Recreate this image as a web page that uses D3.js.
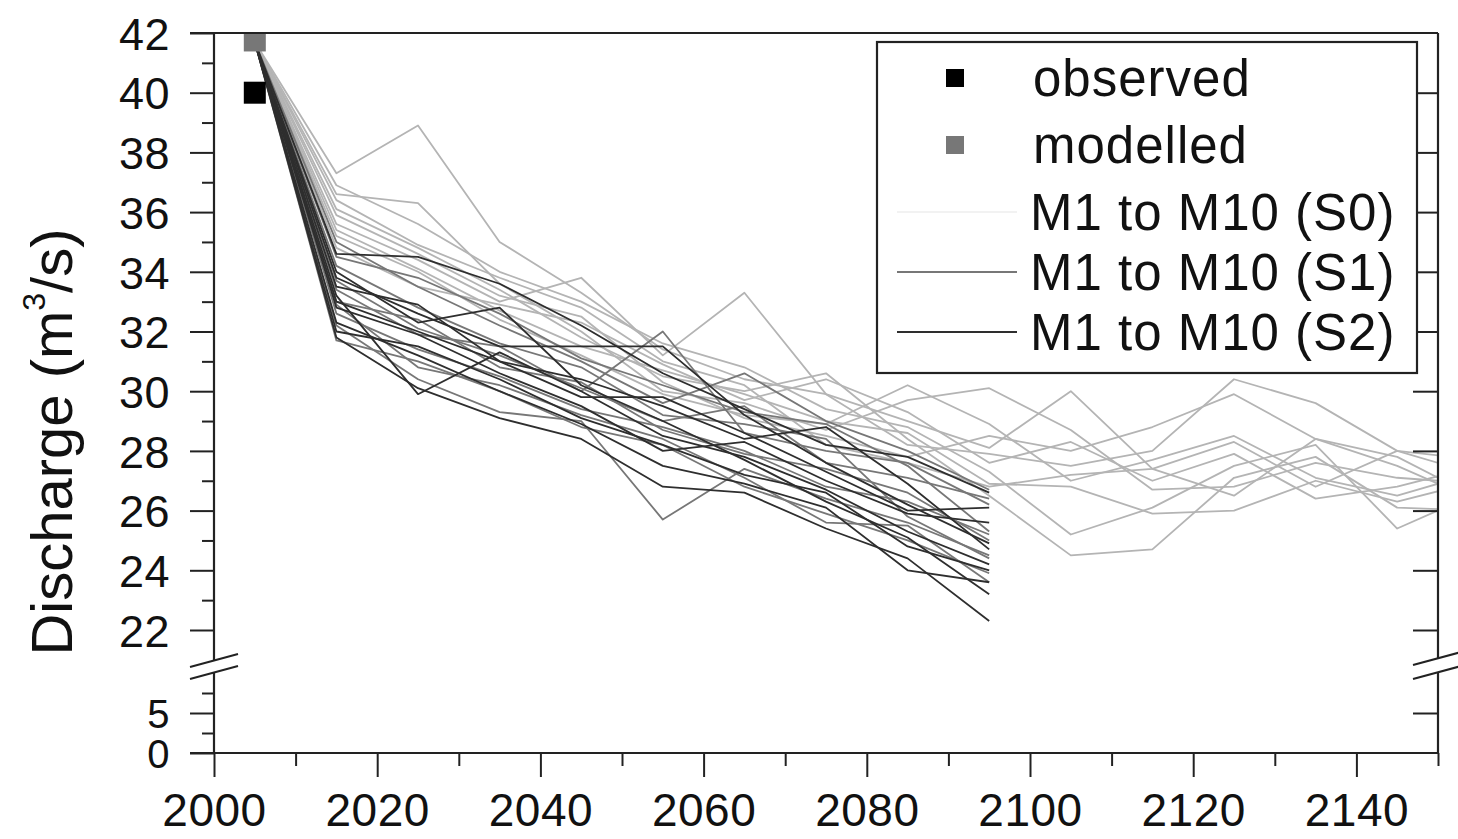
<!DOCTYPE html>
<html>
<head>
<meta charset="UTF-8">
<style>
  body { margin: 0; background: #fff; }
  svg { display: block; }
  .tick text { font-family: "Liberation Sans", Arial, sans-serif; fill: #111; letter-spacing: 0.5px; }
  .legend text { font-family: "Liberation Sans", Arial, sans-serif; fill: #111; letter-spacing: 1px; }
</style>
</head>
<body>
<svg width="1458" height="839"></svg>
<script src="https://d3js.org/d3.v7.min.js"></script>
<script>
// decades sampled by the model runs
const yearsLong = [2005, 2015, 2025, 2035, 2045, 2055, 2065, 2075, 2085, 2095, 2105, 2115, 2125, 2135, 2145, 2155];
const yearsShort = [2005, 2015, 2025, 2035, 2045, 2055, 2065, 2075, 2085, 2095];

// S0 : M1..M10, run to 2155
const s0 = [
  [41.7, 37.3, 38.9, 35.0, 33.3, 31.4, 30.4, 29.9, 28.2, 27.9, 27.5, 28.0, 30.4, 29.6, 28.0, 27.7],
  [41.7, 36.6, 36.3, 33.6, 32.0, 30.0, 29.6, 28.7, 29.7, 30.1, 28.7, 26.7, 26.8, 27.6, 27.1, 26.9],
  [41.7, 35.6, 34.4, 33.0, 33.8, 31.2, 33.3, 29.9, 29.0, 28.1, 30.0, 27.4, 26.5, 28.4, 27.8, 26.4],
  [41.7, 36.1, 34.8, 33.4, 31.8, 30.5, 30.0, 30.6, 28.4, 26.5, 24.5, 24.7, 27.1, 27.8, 26.1, 26.0],
  [41.7, 35.2, 34.0, 32.4, 31.2, 29.9, 29.2, 28.9, 30.2, 28.9, 27.0, 27.7, 28.5, 27.1, 26.5, 27.3],
  [41.7, 34.8, 33.5, 32.9, 32.3, 30.9, 29.7, 30.4, 29.3, 27.6, 28.3, 27.0, 27.9, 26.4, 26.8, 27.5],
  [41.7, 36.9, 35.6, 34.0, 33.0, 31.6, 30.8, 29.4, 28.8, 27.3, 25.2, 26.1, 27.5, 28.2, 25.4, 26.6],
  [41.7, 35.9, 34.6, 33.2, 32.5, 30.3, 29.1, 28.5, 27.8, 28.5, 28.0, 28.8, 29.9, 28.4, 27.5, 26.3],
  [41.7, 35.4, 34.1, 32.7, 31.5, 30.7, 29.9, 29.0, 28.6, 26.9, 26.8, 25.9, 26.0, 27.0, 26.3, 27.0],
  [41.7, 36.4, 34.9, 33.8, 32.8, 31.0, 30.2, 28.2, 27.6, 26.8, 27.2, 27.4, 28.3, 26.8, 28.0, 27.2]
];

// S1 : M1..M10, run to 2095
const s1 = [
  [41.7, 34.5, 33.8, 32.6, 31.1, 30.2, 29.3, 28.9, 27.5, 25.3],
  [41.7, 33.4, 31.9, 31.5, 30.0, 32.0, 28.6, 28.0, 27.6, 26.2],
  [41.7, 32.2, 30.4, 29.3, 29.0, 25.7, 27.4, 26.4, 25.6, 24.5],
  [41.7, 35.0, 33.5, 32.2, 31.0, 29.6, 30.6, 29.0, 28.0, 26.7],
  [41.7, 33.0, 32.4, 30.8, 30.3, 28.7, 27.9, 27.4, 26.6, 25.0],
  [41.7, 31.7, 31.0, 30.0, 28.8, 28.2, 26.8, 25.9, 25.0, 23.9],
  [41.7, 34.2, 32.8, 31.6, 30.8, 29.2, 28.9, 28.4, 25.8, 24.4],
  [41.7, 32.6, 31.4, 30.5, 29.4, 28.8, 28.0, 26.8, 26.3, 25.2],
  [41.7, 33.7, 32.1, 31.2, 30.1, 29.0, 29.5, 27.6, 27.1, 26.4],
  [41.7, 32.9, 30.8, 30.2, 29.2, 28.4, 27.1, 25.6, 25.5, 23.6]
];

// S2 : M1..M10, run to 2095
const s2 = [
  [41.7, 34.6, 34.5, 33.6, 32.2, 30.6, 29.4, 28.2, 27.8, 26.6],
  [41.7, 33.8, 32.6, 31.5, 31.5, 31.5, 29.2, 27.6, 26.2, 24.9],
  [41.7, 33.2, 29.9, 31.3, 30.0, 28.5, 27.8, 26.7, 25.3, 24.2],
  [41.7, 32.8, 31.9, 30.6, 29.5, 28.0, 28.3, 27.0, 25.9, 25.6],
  [41.7, 32.3, 31.2, 30.0, 28.9, 27.5, 26.9, 26.1, 24.0, 23.6],
  [41.7, 33.5, 32.9, 31.0, 30.4, 29.5, 28.4, 28.8, 26.9, 24.7],
  [41.7, 31.8, 30.1, 29.1, 28.4, 26.8, 26.6, 25.4, 24.4, 22.3],
  [41.7, 34.0, 32.3, 32.8, 30.2, 29.0, 27.7, 26.3, 25.1, 23.2],
  [41.7, 32.0, 31.5, 30.4, 29.1, 28.2, 27.2, 26.6, 24.8, 24.0],
  [41.7, 33.0, 32.0, 31.0, 29.8, 29.8, 28.6, 27.3, 26.0, 26.1]
];

const observed = [2005, 40.0];
const modelled = [2005, 41.75];

const xTicks = [2000, 2020, 2040, 2060, 2080, 2100, 2120, 2140];
const xMinor = [2010, 2030, 2050, 2070, 2090, 2110, 2130, 2150];
const yTicksUp = [22, 24, 26, 28, 30, 32, 34, 36, 38, 40, 42];
const yMinorUp = [23, 25, 27, 29, 31, 33, 35, 37, 39, 41];
const yTicksLo = [0, 5];
const yMinorLo = [2.5, 7.5];

const seriesNames = ["M1 to M10 (S0)", "M1 to M10 (S1)", "M1 to M10 (S2)"];
const seriesColors = ["#b4b4b4", "#777777", "#2e2e2e"];

const pLeft = 214, pRight = 1438, pTop = 33, pBottom = 753;

const svg = d3.select("svg");

const x = d3.scaleLinear().domain([2000, 2150]).range([pLeft, pRight]);
// broken y axis: upper part 21.2..42, lower part 0..8.5
const yUp = d3.scaleLinear().domain([21.2, 42]).range([pTop + 20.8 * 29.85, pTop]);
const yLo = d3.scaleLinear().domain([0, 8.5]).range([pBottom, 685]);

svg.append("defs").append("clipPath").attr("id", "plotclip")
  .append("rect")
  .attr("x", pLeft).attr("y", pTop)
  .attr("width", pRight - pLeft).attr("height", pBottom - pTop);

// ---- lines
const line = d3.line().x(d => x(d[0])).y(d => yUp(d[1]));
const plot = svg.append("g").attr("clip-path", "url(#plotclip)");

function drawSet(set, years, color) {
  plot.append("g")
    .selectAll("path")
    .data(set)
    .enter()
    .append("path")
    .attr("d", vals => line(vals.map((v, i) => [years[i], v])))
    .attr("fill", "none")
    .attr("stroke", color)
    .attr("stroke-width", 1.8)
    .attr("stroke-linejoin", "round");
}
drawSet(s0, yearsLong, seriesColors[0]);
drawSet(s1, yearsShort, seriesColors[1]);
drawSet(s2, yearsShort, seriesColors[2]);

// observed / modelled squares
const sq = 22;
plot.append("rect")
  .attr("x", x(modelled[0]) - sq / 2).attr("y", yUp(modelled[1]) - sq / 2)
  .attr("width", sq).attr("height", sq).attr("fill", "#777");
plot.append("rect")
  .attr("x", x(observed[0]) - sq / 2).attr("y", yUp(observed[1]) - sq / 2)
  .attr("width", sq).attr("height", sq).attr("fill", "#000");

// ---- axes
function styleAxis(g) {
  g.select(".domain").remove();
  g.selectAll(".tick line").attr("stroke", "#222").attr("stroke-width", 2);
}

// left
svg.append("g").attr("transform", `translate(${pLeft},0)`)
  .call(d3.axisLeft(yUp).tickValues(yTicksUp).tickSize(24).tickPadding(20).tickFormat(d3.format("d")))
  .call(styleAxis)
  .selectAll("text").attr("font-size", 45).attr("dy", "0.36em");
svg.append("g").attr("transform", `translate(${pLeft},0)`)
  .call(d3.axisLeft(yUp).tickValues(yMinorUp).tickSize(12).tickFormat(""))
  .call(styleAxis);
svg.append("g").attr("transform", `translate(${pLeft},0)`)
  .call(d3.axisLeft(yLo).tickValues(yTicksLo).tickSize(24).tickPadding(20).tickFormat(d3.format("d")))
  .call(styleAxis)
  .selectAll("text").attr("font-size", 40).attr("dy", "0.36em");
svg.append("g").attr("transform", `translate(${pLeft},0)`)
  .call(d3.axisLeft(yLo).tickValues(yMinorLo).tickSize(12).tickFormat(""))
  .call(styleAxis);

// right (inward ticks, no labels)
svg.append("g").attr("transform", `translate(${pRight},0)`)
  .call(d3.axisLeft(yUp).tickValues(yTicksUp.slice(0, -1)).tickSize(25).tickFormat(""))
  .call(styleAxis);
svg.append("g").attr("transform", `translate(${pRight},0)`)
  .call(d3.axisLeft(yLo).tickValues([5]).tickSize(25).tickFormat(""))
  .call(styleAxis);

// bottom
svg.append("g").attr("transform", `translate(0,${pBottom})`)
  .call(d3.axisBottom(x).tickValues(xTicks).tickSize(24).tickPadding(14).tickFormat(d3.format("d")))
  .call(styleAxis)
  .selectAll("text").attr("font-size", 46).attr("dy", "0.75em");
svg.append("g").attr("transform", `translate(0,${pBottom})`)
  .call(d3.axisBottom(x).tickValues(xMinor).tickSize(13).tickFormat(""))
  .call(styleAxis);

// frame
const frame = svg.append("g").attr("stroke", "#222").attr("stroke-width", 2.2).attr("fill", "none");
frame.append("line").attr("x1", pLeft - 24).attr("x2", pRight).attr("y1", pTop).attr("y2", pTop);
frame.append("line").attr("x1", pLeft - 24).attr("x2", pRight).attr("y1", pBottom).attr("y2", pBottom);
frame.append("line").attr("x1", pLeft).attr("x2", pLeft).attr("y1", pTop).attr("y2", pBottom);
frame.append("line").attr("x1", pRight).attr("x2", pRight).attr("y1", pTop).attr("y2", pBottom);

// axis break marks
function breakMark(x0, x1, yA, yB) {
  const slope = -0.27;
  const g = svg.append("g");
  g.append("polygon")
    .attr("points", [[x0, yA], [x1, yA + slope * (x1 - x0)], [x1, yB + slope * (x1 - x0)], [x0, yB]].map(p => p.join(",")).join(" "))
    .attr("fill", "#fff");
  [yA, yB].forEach(yy => {
    g.append("line")
      .attr("x1", x0).attr("y1", yy)
      .attr("x2", x1).attr("y2", yy + slope * (x1 - x0))
      .attr("stroke", "#222").attr("stroke-width", 2);
  });
}
breakMark(190, 238, 667, 679);
breakMark(1413, 1460, 665, 679);

// y label
svg.append("text")
  .attr("transform", "translate(72,442) rotate(-90)")
  .attr("text-anchor", "middle")
  .attr("font-family", "Liberation Sans, Arial, sans-serif")
  .attr("font-size", 58)
  .attr("fill", "#111")
  .call(t => {
    t.append("tspan").text("Discharge (m");
    t.append("tspan").attr("font-size", 32).attr("dy", -27).text("3");
    t.append("tspan").attr("dy", 27).text("/s)");
  });

// ---- legend
const legend = svg.append("g").attr("class", "legend");
legend.append("rect")
  .attr("x", 877).attr("y", 42).attr("width", 540).attr("height", 331)
  .attr("fill", "#fff").attr("stroke", "#222").attr("stroke-width", 2.2);

const rowY = [78, 145, 212, 272, 332];
legend.append("rect").attr("x", 946).attr("y", rowY[0] - 9).attr("width", 18).attr("height", 18).attr("fill", "#000");
legend.append("rect").attr("x", 946).attr("y", rowY[1] - 9).attr("width", 18).attr("height", 18).attr("fill", "#777");
legend.append("text").attr("x", 1033).attr("y", rowY[0]).attr("dy", "0.36em").attr("font-size", 51).text("observed");
legend.append("text").attr("x", 1033).attr("y", rowY[1]).attr("dy", "0.36em").attr("font-size", 51).text("modelled");

seriesNames.forEach((name, i) => {
  const yy = rowY[2 + i];
  legend.append("line")
    .attr("x1", 897).attr("x2", 1017).attr("y1", yy).attr("y2", yy)
    .attr("stroke", i === 0 ? "#f2f2f2" : seriesColors[i]).attr("stroke-width", 2);
  legend.append("text").attr("x", 1030).attr("y", yy).attr("dy", "0.36em").attr("font-size", 51).text(name);
});
</script>
</body>
</html>
